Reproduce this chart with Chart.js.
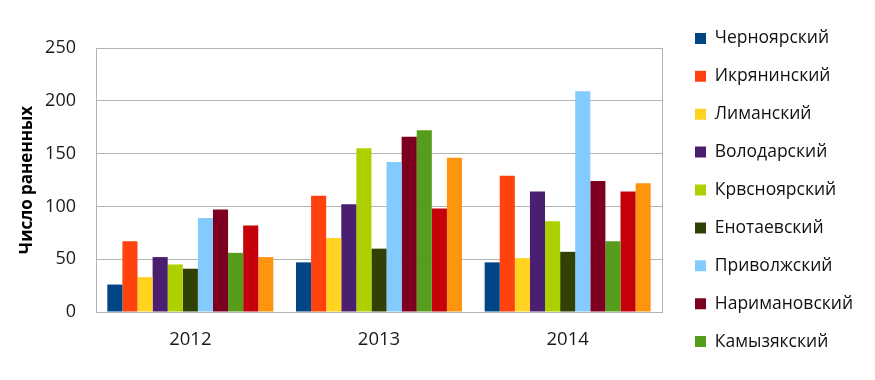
<!DOCTYPE html>
<html>
<head>
<meta charset="utf-8">
<script src="https://cdn.jsdelivr.net/npm/chart.js@4/dist/chart.umd.min.js"></script>
<style>
  html, body { margin: 0; padding: 0; background: #ffffff; }
  #wrap { width: 875px; height: 380px; }
</style>
</head>
<body>
<div id="wrap"><canvas id="c" width="875" height="380"></canvas></div>
<script>
const years = ['2012', '2013', '2014'];
const districts = ['Черноярский', 'Икрянинский', 'Лиманский', 'Володарский', 'Крвсноярский',
  'Енотаевский', 'Приволжский', 'Наримановский', 'Камызякский', 'Харабалинский', 'Ахтубинский'];
const chernoyarsky = [26, 47, 47];
const ikryaninsky = [67, 110, 129];
const limansky = [33, 70, 51];
const volodarsky = [52, 102, 114];
const krasnoyarsky = [45, 155, 86];
const enotaevsky = [41, 60, 57];
const privolzhsky = [89, 142, 209];
const narimanovsky = [97, 166, 124];
const kamyzyaksky = [56, 172, 67];
const kharabalinsky = [82, 98, 114];
const akhtubinsky = [52, 146, 122];
const seriesValues = [chernoyarsky, ikryaninsky, limansky, volodarsky, krasnoyarsky,
  enotaevsky, privolzhsky, narimanovsky, kamyzyaksky, kharabalinsky, akhtubinsky];
const colors = ['#004586', '#ff420e', '#ffd320', '#4b1f6f', '#aecf00',
  '#314004', '#83caff', '#7e0021', '#579d1c', '#c5000b', '#ff950e'];
const yTicks = [0, 50, 100, 150, 200, 250];
const yTitle = 'Число раненных';
const visibleLegendItems = 9;

const legendFix = {
  id: 'legendFix',
  beforeLayout(chart) {
    const lg = chart.legend;
    if (lg && !lg._patched) {
      const orig = lg.fit;
      lg.fit = function () {
        this.maxHeight = 380;
        orig.call(this);
        this.width = 213;
        this.height = 380;
      };
      lg._patched = true;
    }
  },
  afterLayout(chart) {
    const lg = chart.legend;
    lg.left = 674.6; lg.right = 875; lg.top = 0; lg.bottom = 380;
  }
};

const FONT = "'Open Sans', 'DejaVu Sans', sans-serif";

new Chart(document.getElementById('c'), {
  type: 'bar',
  data: {
    labels: years,
    datasets: districts.map((name, i) => ({
      label: name,
      data: seriesValues[i],
      backgroundColor: colors[i],
      borderWidth: 0,
      barPercentage: 1.0,
      categoryPercentage: 0.88
    }))
  },
  options: {
    responsive: false,
    animation: false,
    layout: { padding: { top: 48, left: 0, right: 0, bottom: 0 } },
    plugins: {
      tooltip: { enabled: false },
      legend: {
        position: 'right',
        align: 'center',
        labels: {
          boxWidth: 11,
          boxHeight: 11,
          padding: 20.4,
          color: '#111111',
          font: { family: FONT, size: 17.5 },
          filter: (item) => item.datasetIndex < visibleLegendItems
        }
      }
    },
    scales: {
      x: {
        grid: { display: false, drawTicks: false },
        border: { display: true, color: '#b3b3b3', width: 1 },
        ticks: { color: '#1a1a1a', font: { family: FONT, size: 18.5 }, padding: 17 },
        afterFit: (s) => { s.height = 68; }
      },
      y: {
        min: 0,
        max: 250,
        afterBuildTicks: (s) => { s.ticks = yTicks.map(v => ({ value: v })); },
        grid: { color: '#b3b3b3', lineWidth: 1, drawTicks: false },
        border: { display: true, color: '#b3b3b3', width: 1 },
        ticks: { color: '#1a1a1a', font: { family: FONT, size: 18 }, padding: 20 },
        title: {
          display: true,
          text: yTitle,
          color: '#000000',
          font: { family: FONT, size: 17, weight: 'bold' },
          padding: { top: 17, bottom: 0 }
        },
        afterFit: (s) => { s.width = 96; }
      },
      y2: {
        position: 'right',
        min: 0,
        max: 250,
        grid: { display: false, drawTicks: false },
        border: { display: true, color: '#b3b3b3', width: 1 },
        ticks: { display: false },
        afterFit: (s) => { s.width = 0; }
      }
    }
  },
  plugins: [legendFix]
});
</script>
</body>
</html>
